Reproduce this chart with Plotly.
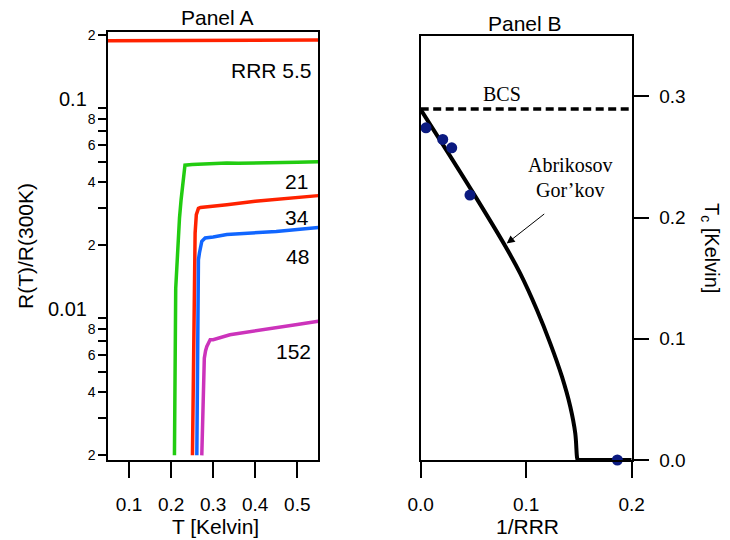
import math
import plotly.graph_objects as go

# ---------------- Panel A data: R(T)/R(300K) vs T ----------------
T_rrr55 = [0.05, 0.15, 0.30, 0.45, 0.55]
R_rrr55 = [0.1885, 0.1890, 0.1895, 0.1900, 0.1900]

T_rrr21 = [0.2080, 0.2088, 0.2095, 0.2110, 0.2136, 0.2174, 0.2200, 0.2238, 0.2279,
           0.2305, 0.2330, 0.2500, 0.2700, 0.3000, 0.3326, 0.3600, 0.4000, 0.4500, 0.5000, 0.5500]
R_rrr21 = [0.0020, 0.0040, 0.0073, 0.0125, 0.0156, 0.0229, 0.0270, 0.0330, 0.0396,
           0.0450, 0.0482, 0.0485, 0.0487, 0.0490, 0.0494, 0.0492, 0.0495, 0.0497, 0.0498, 0.0500]

T_rrr34 = [0.2508, 0.2530, 0.2550, 0.2571, 0.2600, 0.2650, 0.2700, 0.2800, 0.3000,
           0.3326, 0.4000, 0.4500, 0.5000, 0.5500]
R_rrr34 = [0.0020, 0.0060, 0.0156, 0.0229, 0.0280, 0.0300, 0.0303, 0.0304, 0.0306,
           0.0312, 0.0324, 0.0331, 0.0338, 0.0345]

T_rrr48 = [0.2612, 0.2625, 0.2636, 0.2650, 0.2674, 0.2700, 0.2730, 0.2810, 0.3000,
           0.3326, 0.4000, 0.4500, 0.5000, 0.5500]
R_rrr48 = [0.0020, 0.0080, 0.0153, 0.0171, 0.0184, 0.0198, 0.0209, 0.0217, 0.0219,
           0.0225, 0.0229, 0.0233, 0.0238, 0.0243]

T_rrr152 = [0.2730, 0.2745, 0.2760, 0.2770, 0.2790, 0.2820, 0.2850, 0.2929, 0.3000,
            0.3398, 0.4000, 0.4500, 0.5000, 0.5500]
R_rrr152 = [0.0020, 0.0028, 0.0040, 0.0051, 0.0058, 0.0063, 0.0066, 0.0071, 0.0071,
            0.0075, 0.0078, 0.0081, 0.0084, 0.0087]

A_xticks = [0.1, 0.2, 0.3, 0.4, 0.5]
A_xticktext = ["0.1", "0.2", "0.3", "0.4", "0.5"]
A_major_vals = [0.01, 0.1]
A_major_text = ["0.01", "0.1"]
A_minor_vals = [0.002, 0.003, 0.004, 0.005, 0.006, 0.007, 0.008, 0.009,
                0.02, 0.03, 0.04, 0.05, 0.06, 0.07, 0.08, 0.09, 0.2]
A_minor_text = ["2", "", "4", "", "6", "", "8", "",
                "2", "", "4", "", "6", "", "8", "", "2"]

# ---------------- Panel B data: Tc vs 1/RRR ----------------
inv_rrr = [0.0050, 0.0209, 0.0294, 0.0467, 0.1864]
tc_meas = [0.2740, 0.2644, 0.2575, 0.2185, 0.0000]

ag_x = [0.0000, 0.0500, 0.0801, 0.0943, 0.1102, 0.1228, 0.1339, 0.1418, 0.1465, 0.1481, 0.1487]
ag_y = [0.2890, 0.2199, 0.1765, 0.1539, 0.1237, 0.0962, 0.0687, 0.0439, 0.0220, 0.0027, 0.0000]
ag_flat_x = [0.1487, 0.2000]
ag_flat_y = [0.0, 0.0]

bcs_x = [0.0, 0.2]
bcs_y = [0.2896, 0.2896]

B_xticks = [0.0, 0.1, 0.2]
B_xticktext = ["0.0", "0.1", "0.2"]
B_yticks = [0.0, 0.1, 0.2, 0.3]
B_yticktext = ["0.0", "0.1", "0.2", "0.3"]

# ---------------- figure ----------------
# The page body has an 8px default margin, so all layout positions (given in
# window pixels) are shifted by 8px.
OFF = 8
W, H = 730, 540
SANS = "Liberation Sans, Arial, sans-serif"
SERIF = "Liberation Serif, Times New Roman, serif"

def px(x):
    return (x - OFF) / W

def py(y):
    return 1 - (y - OFF) / H

fig = go.Figure()

curves = [
    (T_rrr55, R_rrr55, "#ff2200"),
    (T_rrr21, R_rrr21, "#22cc11"),
    (T_rrr34, R_rrr34, "#ff2200"),
    (T_rrr48, R_rrr48, "#1166ff"),
    (T_rrr152, R_rrr152, "#cc33bb"),
]
for tx, ry, col in curves:
    fig.add_trace(go.Scatter(x=tx, y=ry, mode="lines", xaxis="x", yaxis="y",
                             line=dict(color=col, width=3.5), showlegend=False))

fig.add_trace(go.Scatter(x=bcs_x, y=bcs_y, mode="lines", xaxis="x2", yaxis="y2",
                         line=dict(color="black", width=3.5, dash="8px,4.5px"),
                         showlegend=False))
fig.add_trace(go.Scatter(x=ag_x, y=ag_y, mode="lines", xaxis="x2", yaxis="y2",
                         line=dict(color="black", width=4, shape="spline", smoothing=1.0),
                         showlegend=False))
fig.add_trace(go.Scatter(x=ag_flat_x, y=ag_flat_y, mode="lines", xaxis="x2", yaxis="y2",
                         line=dict(color="black", width=4), showlegend=False))
fig.add_trace(go.Scatter(x=inv_rrr, y=tc_meas, mode="markers", xaxis="x2", yaxis="y2",
                         marker=dict(color="#0b1a80", size=11), showlegend=False,
                         cliponaxis=False))

axis_common = dict(showgrid=False, zeroline=False, showline=True, linecolor="black",
                   linewidth=1.5, ticks="outside", tickcolor="black", tickwidth=1.5,
                   mirror=True, automargin=False)

A_y_range = [-2.7212, -0.6805]

fig.update_layout(
    width=W, height=H,
    margin=dict(l=0, r=0, t=0, b=0, pad=0),
    paper_bgcolor="white", plot_bgcolor="white",
    font=dict(family=SANS, color="black"),
    xaxis=dict(axis_common, domain=[px(108), px(318.3)], range=[0.05, 0.55],
               tickvals=A_xticks, ticktext=A_xticktext, ticklen=16,
               tickfont=dict(size=19), anchor="y", ticklabelstandoff=10),
    yaxis=dict(axis_common, domain=[py(460), py(31.5)], type="log", range=A_y_range,
               tickvals=A_minor_vals, ticktext=A_minor_text, ticklen=8,
               tickfont=dict(size=14), anchor="x"),
    xaxis2=dict(axis_common, domain=[px(420.7), px(631.7)], range=[0.0, 0.2],
                tickvals=B_xticks, ticktext=B_xticktext, ticklen=16,
                tickfont=dict(size=19), anchor="y2", ticklabelstandoff=10),
    yaxis2=dict(axis_common, domain=[py(460), py(35.7)], range=[0.0, 0.35],
                tickvals=B_yticks, ticktext=B_yticktext, ticklen=16, side="right",
                tickfont=dict(size=19), anchor="x2", ticklabelstandoff=6),
)

# long major ticks + their labels on the log axis (log axes use log10 for shapes/annotations)
shapes = []
ann = []
for v, t in zip(A_major_vals, A_major_text):
    lv = math.log10(v)
    shapes.append(dict(type="line", xref="paper", yref="y", x0=px(92), x1=px(108),
                       y0=lv, y1=lv, line=dict(color="black", width=1.5)))
    ann.append(dict(x=px(89), y=lv, xref="paper", yref="y", text=t, showarrow=False,
                    xanchor="right", yanchor="middle",
                    font=dict(size=20, family=SANS, color="black")))

def txt(x, y, s, size=21, xanchor="center", yanchor="middle", family=SANS, angle=0):
    ann.append(dict(x=px(x), y=py(y), xref="paper", yref="paper", text=s,
                    showarrow=False, xanchor=xanchor, yanchor=yanchor, textangle=angle,
                    font=dict(size=size, family=family, color="black")))

txt(216.5, 17.5, "Panel A")
txt(524.5, 23, "Panel B")
txt(215, 526, "T [Kelvin]")
txt(527, 526, "1/RRR")
txt(25, 246, "R(T)/R(300K)", angle=-90)
txt(711, 248, "T<sub>c</sub> [Kelvin]", size=20, angle=90)

txt(314, 70, "RRR 5.5", xanchor="right")
txt(310, 182, "21", xanchor="right")
txt(311, 217, "34", xanchor="right")
txt(311, 256, "48", xanchor="right")
txt(313, 351, "152", xanchor="right")

txt(502, 94, "BCS", size=20, family=SERIF)
txt(570, 165, "Abrikosov", size=20, family=SERIF)
txt(570, 190, "Gor\u2019kov", size=20, family=SERIF)

ann.append(dict(x=0.0815, y=0.1786, xref="x2", yref="y2", ax=0.1185, ay=0.2039,
                axref="x2", ayref="y2", text="", showarrow=True, arrowhead=2,
                arrowsize=1.6, arrowwidth=1, arrowcolor="black"))

fig.update_layout(annotations=ann, shapes=shapes)

fig.write_html("out.html")
